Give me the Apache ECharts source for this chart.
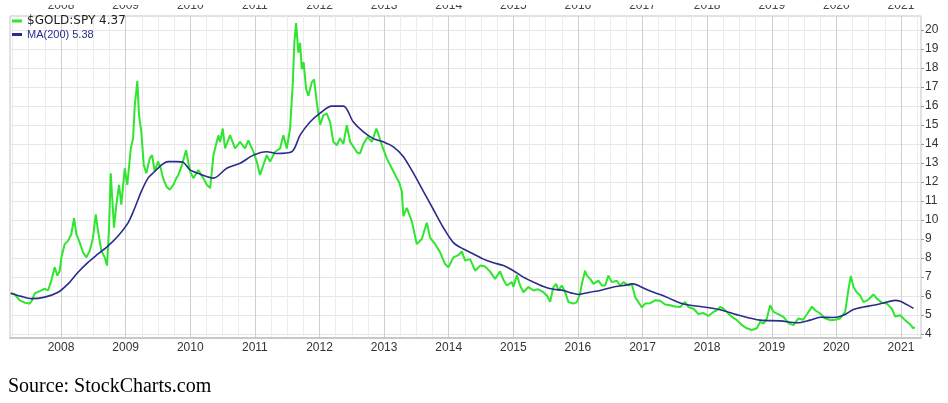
<!DOCTYPE html>
<html>
<head>
<meta charset="utf-8">
<script src="https://cdn.jsdelivr.net/npm/echarts@6/dist/echarts.min.js"></script>
<style>
html,body{margin:0;padding:0;background:#fff;}
#chart{width:948px;height:403px;}
</style>
</head>
<body>
<div id="chart"></div>
<script>
// ---- data (decimal years / ratio values) ----
const yearLabels = [2008,2009,2010,2011,2012,2013,2014,2015,2016,2017,2018,2019,2020,2021];
const priceTicks = [4,5,6,7,8,9,10,11,12,13,14,15,16,17,18,19,20];
const goldName = '$GOLD:SPY';
const goldLast = '4.37';
const maName = 'MA(200)';
const maLast = '5.38';

const goldDates = [
2007.221,2007.283,2007.361,2007.438,2007.515,2007.551,2007.593,2007.670,2007.748,2007.799,
2007.850,2007.902,2007.943,2007.980,2008.005,2008.057,2008.108,2008.159,2008.201,2008.237,
2008.289,2008.341,2008.392,2008.444,2008.495,2008.537,2008.573,2008.624,2008.676,2008.712,
2008.743,2008.769,2008.820,2008.856,2008.898,2008.933,2008.986,2009.026,2009.079,2009.115,
2009.141,2009.181,2009.207,2009.243,2009.280,2009.320,2009.373,2009.409,2009.450,2009.502,
2009.543,2009.579,2009.630,2009.683,2009.738,2009.785,2009.816,2009.873,2009.935,2009.997,
2010.048,2010.125,2010.203,2010.255,2010.307,2010.333,2010.358,2010.435,2010.461,2010.503,
2010.539,2010.616,2010.693,2010.771,2010.848,2010.899,2010.977,2011.029,2011.080,2011.132,
2011.184,2011.235,2011.313,2011.390,2011.441,2011.494,2011.545,2011.587,2011.611,2011.638,
2011.673,2011.700,2011.726,2011.754,2011.793,2011.828,2011.881,2011.916,2011.958,2012.009,
2012.060,2012.113,2012.164,2012.215,2012.268,2012.319,2012.370,2012.423,2012.474,2012.525,
2012.582,2012.628,2012.680,2012.745,2012.810,2012.881,2012.923,2012.969,2013.042,2013.119,
2013.197,2013.232,2013.274,2013.299,2013.351,2013.429,2013.506,2013.584,2013.661,2013.712,
2013.789,2013.867,2013.944,2013.995,2014.073,2014.150,2014.203,2014.254,2014.331,2014.409,
2014.486,2014.563,2014.641,2014.718,2014.796,2014.847,2014.899,2014.977,2015.002,2015.054,
2015.105,2015.156,2015.234,2015.311,2015.384,2015.466,2015.519,2015.570,2015.621,2015.663,
2015.698,2015.751,2015.802,2015.853,2015.930,2015.983,2016.034,2016.060,2016.111,2016.138,
2016.189,2016.240,2016.317,2016.370,2016.421,2016.472,2016.525,2016.602,2016.653,2016.704,
2016.782,2016.834,2016.885,2016.937,2016.989,2017.040,2017.118,2017.195,2017.272,2017.350,
2017.427,2017.505,2017.582,2017.659,2017.710,2017.788,2017.865,2017.943,2018.020,2018.098,
2018.150,2018.201,2018.248,2018.305,2018.382,2018.460,2018.537,2018.615,2018.692,2018.769,
2018.820,2018.875,2018.924,2018.975,2019.026,2019.099,2019.181,2019.263,2019.336,2019.413,
2019.486,2019.568,2019.621,2019.672,2019.749,2019.827,2019.904,2019.981,2020.059,2020.136,
2020.187,2020.224,2020.265,2020.314,2020.368,2020.419,2020.492,2020.574,2020.627,2020.704,
2020.782,2020.859,2020.910,2020.988,2021.065,2021.142,2021.193,2021.212
];
const goldValues = [
6.15,6.08,5.77,5.65,5.60,5.77,6.14,6.26,6.38,6.29,
6.81,7.51,7.07,7.33,8.03,8.73,8.90,9.25,10.10,9.25,
8.81,8.29,8.03,8.38,9.07,10.29,9.42,8.38,8.03,7.60,
9.59,12.46,9.59,10.81,11.85,10.81,12.72,11.85,13.76,14.28,
16.02,17.32,15.50,14.63,12.89,12.46,13.24,13.41,12.55,13.07,
12.72,12.20,11.76,11.59,11.85,12.20,12.37,12.90,13.67,12.55,
12.20,12.63,12.20,11.85,11.68,12.50,13.41,14.46,14.10,14.81,
13.76,14.46,13.76,14.11,13.76,14.19,13.59,13.07,12.37,12.90,
13.41,13.07,13.59,13.76,14.46,13.76,14.81,17.20,19.32,20.36,
18.80,19.32,17.93,18.30,16.89,16.54,17.24,17.40,16.20,15.00,
15.50,15.60,15.15,14.11,13.93,14.30,14.00,14.98,14.11,13.85,
13.55,13.50,14.00,14.37,14.11,14.81,14.40,13.90,13.24,12.72,
12.20,12.00,11.50,10.20,10.63,9.94,8.73,9.00,9.85,9.07,
8.73,8.30,7.68,7.51,8.03,8.15,8.35,7.86,7.94,7.33,
7.60,7.55,7.28,6.90,7.30,6.85,6.55,6.73,6.47,7.10,
6.55,6.20,6.47,6.29,6.35,6.20,6.03,5.70,6.47,6.64,
6.29,6.55,6.20,5.68,5.60,5.68,6.12,6.64,7.33,7.07,
6.90,6.64,6.81,6.55,6.55,7.07,6.73,6.80,6.55,6.73,
6.55,6.64,5.94,5.68,5.40,5.60,5.62,5.77,5.75,5.55,
5.51,5.45,5.42,5.68,5.42,5.33,5.05,5.10,4.95,5.16,
5.25,5.42,5.35,5.16,4.90,4.73,4.47,4.30,4.21,4.30,
4.64,4.55,4.82,5.51,5.16,5.05,4.90,4.56,4.47,4.82,
4.75,5.16,5.44,5.25,5.08,4.82,4.73,4.75,4.82,5.16,
6.35,7.05,6.47,6.20,6.03,5.68,5.80,6.08,5.86,5.65,
5.60,5.33,4.92,4.99,4.73,4.50,4.30,4.37
];

const maDates = [
2007.221,2007.385,2007.540,2007.748,2007.954,2008.108,2008.263,2008.418,2008.573,2008.728,
2008.882,2009.037,2009.141,2009.243,2009.347,2009.450,2009.553,2009.656,2009.785,2009.893,
2009.997,2010.152,2010.358,2010.565,2010.771,2010.977,2011.184,2011.339,2011.571,2011.700,
2011.854,2012.009,2012.190,2012.370,2012.525,2012.680,2012.834,2012.989,2013.144,2013.299,
2013.454,2013.608,2013.763,2013.918,2014.073,2014.228,2014.382,2014.537,2014.692,2014.847,
2015.002,2015.156,2015.311,2015.466,2015.621,2015.776,2015.905,2016.008,2016.189,2016.344,
2016.549,2016.704,2016.859,2016.963,2017.118,2017.272,2017.427,2017.582,2017.737,2017.892,
2018.201,2018.511,2018.820,2019.130,2019.389,2019.594,2019.749,2019.955,2020.110,2020.265,
2020.419,2020.574,2020.729,2020.910,2020.988,2021.193
];
const maValues = [
6.15,5.98,5.86,5.94,6.20,6.64,7.25,7.77,8.21,8.64,
9.16,9.85,10.63,11.50,12.20,12.55,12.89,13.07,13.07,13.03,
12.63,12.41,12.20,12.72,12.98,13.41,13.59,13.50,13.59,14.46,
15.15,15.62,15.99,15.99,15.15,14.63,14.28,14.11,13.85,13.33,
12.46,11.50,10.55,9.59,8.81,8.47,8.21,7.94,7.75,7.60,
7.33,6.99,6.73,6.50,6.35,6.29,6.15,6.08,6.20,6.29,
6.47,6.55,6.64,6.50,6.26,6.08,5.86,5.63,5.51,5.45,
5.28,4.97,4.73,4.69,4.59,4.73,4.88,4.87,4.99,5.29,
5.42,5.51,5.63,5.77,5.72,5.35
];

// quarter grid positions (non-year)
const quarterTicks = [];
for (let y = 2007; y <= 2021; y++) {
  [0.25, 0.5, 0.75].forEach(q => quarterTicks.push(y + q));
}

const chart = echarts.init(document.getElementById('chart'), null, {renderer: 'canvas'});
const lastMap = {};
lastMap[goldName] = goldLast;
lastMap[maName] = maLast;

chart.setOption({
  animation: false,
  backgroundColor: '#ffffff',
  grid: {left: 10, right: 27, top: 13, bottom: 65, show: true, borderColor: '#c4c4c4', borderWidth: 1},
  legend: {
    orient: 'vertical', left: 7, top: 10, itemGap: 2,
    itemWidth: 10, itemHeight: 3, icon: 'rect',
    selectedMode: false,
    formatter: name => name + ' ' + lastMap[name],
    data: [
      {name: goldName, textStyle: {color: '#222', fontSize: 12, fontFamily: 'DejaVu Sans'}},
      {name: maName, textStyle: {color: '#2b2b8a', fontSize: 11, fontFamily: 'Liberation Sans'}}
    ]
  },
  xAxis: [
    {
      type: 'value', position: 'bottom', min: 2007.21, max: 2021.31,
      axisLine: {show: true, lineStyle: {color: '#c8c8c8', width: 2}},
      axisTick: {show: false, customValues: yearLabels},
      axisLabel: {customValues: yearLabels, formatter: v => String(v), color: '#333', fontSize: 12, fontFamily: 'Liberation Sans', margin: 4},
      splitLine: {show: true, lineStyle: {color: '#cfcfcf', width: 1}}
    },
    {
      type: 'value', position: 'top', min: 2007.21, max: 2021.31,
      axisLine: {show: false},
      axisTick: {show: false, customValues: quarterTicks},
      axisLabel: {customValues: yearLabels, formatter: v => String(v), color: '#444', fontSize: 12, fontFamily: 'Liberation Sans', margin: 4},
      splitLine: {show: true, lineStyle: {color: '#ececec', width: 1}}
    }
  ],
  yAxis: {
    type: 'value', position: 'right', min: 3.79, max: 20.73,
    axisLine: {show: false},
    axisTick: {show: true, customValues: priceTicks, length: 3, inside: false, lineStyle: {color: '#999'}},
    axisLabel: {customValues: priceTicks, color: '#333', fontSize: 12, fontFamily: 'Liberation Sans', margin: 4},
    splitLine: {show: true, lineStyle: {color: '#e6e6e6', width: 1}}
  },
  graphic: [
    {type: 'rect', left: 0, top: 0, shape: {width: 948, height: 5}, style: {fill: '#ffffff'}, z: 100},
    {type: 'text', left: 8, top: 377, style: {text: 'Source: StockCharts.com', font: '20px "Liberation Serif"', fill: '#000'}}
  ],
  series: [
    {
      name: goldName, type: 'line', xAxisIndex: 0, showSymbol: false, symbol: 'none',
      data: goldDates.map((d, i) => [d, goldValues[i]]),
      lineStyle: {color: '#2ee62e', width: 2}, itemStyle: {color: '#2ee62e'}, z: 2
    },
    {
      name: maName, type: 'line', xAxisIndex: 0, showSymbol: false, symbol: 'none', smooth: 0.3,
      data: maDates.map((d, i) => [d, maValues[i]]),
      lineStyle: {color: '#2b2b8a', width: 1.6}, itemStyle: {color: '#2b2b8a'}, z: 3
    }
  ]
});
</script>
</body>
</html>
